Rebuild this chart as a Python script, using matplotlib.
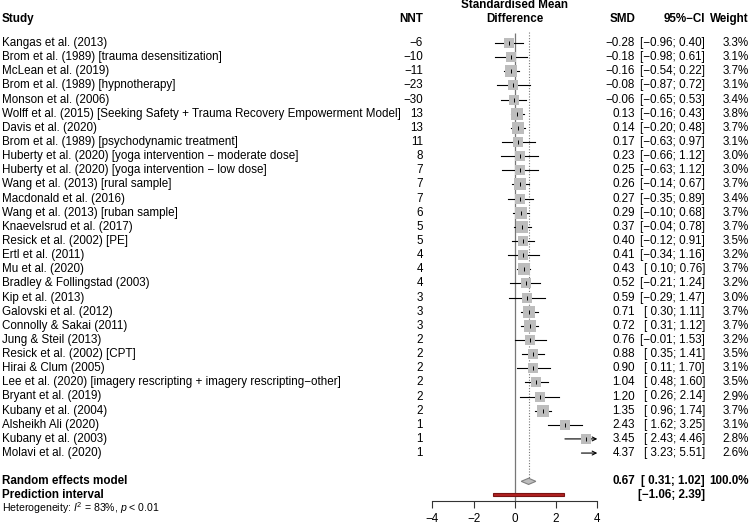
import matplotlib
matplotlib.use("Agg")
import matplotlib.pyplot as plt
from matplotlib.transforms import blended_transform_factory
from matplotlib.patches import Polygon, Rectangle

plt.rcParams["font.family"] = ["Liberation Sans", "DejaVu Sans"]
plt.rcParams["mathtext.fontset"] = "custom"
plt.rcParams["mathtext.rm"] = "Liberation Sans"
plt.rcParams["mathtext.it"] = "Liberation Sans:italic"

# data
studies = [
    "Kangas et al. (2013)",
    "Brom et al. (1989) [trauma desensitization]",
    "McLean et al. (2019)",
    "Brom et al. (1989) [hypnotherapy]",
    "Monson et al. (2006)",
    "Wolff et al. (2015) [Seeking Safety + Trauma Recovery Empowerment Model]",
    "Davis et al. (2020)",
    "Brom et al. (1989) [psychodynamic treatment]",
    "Huberty et al. (2020) [yoga intervention \u2212 moderate dose]",
    "Huberty et al. (2020) [yoga intervention \u2212 low dose]",
    "Wang et al. (2013) [rural sample]",
    "Macdonald et al. (2016)",
    "Wang et al. (2013) [ruban sample]",
    "Knaevelsrud et al. (2017)",
    "Resick et al. (2002) [PE]",
    "Ertl et al. (2011)",
    "Mu et al. (2020)",
    "Bradley & Follingstad (2003)",
    "Kip et al. (2013)",
    "Galovski et al. (2012)",
    "Connolly & Sakai (2011)",
    "Jung & Steil (2013)",
    "Resick et al. (2002) [CPT]",
    "Hirai & Clum (2005)",
    "Lee et al. (2020) [imagery rescripting + imagery rescripting\u2212other]",
    "Bryant et al. (2019)",
    "Kubany et al. (2004)",
    "Alsheikh Ali (2020)",
    "Kubany et al. (2003)",
    "Molavi et al. (2020)",
]
nnt = [-6, -10, -11, -23, -30, 13, 13, 11, 8, 7, 7, 7, 6, 5, 5, 4, 4, 4, 3, 3, 3,
       2, 2, 2, 2, 2, 2, 1, 1, 1]
smd = [-0.28, -0.18, -0.16, -0.08, -0.06, 0.13, 0.14, 0.17, 0.23, 0.25, 0.26, 0.27,
       0.29, 0.37, 0.40, 0.41, 0.43, 0.52, 0.59, 0.71, 0.72, 0.76, 0.88, 0.90, 1.04,
       1.20, 1.35, 2.43, 3.45, 4.37]
lower = [-0.96, -0.98, -0.54, -0.87, -0.65, -0.16, -0.20, -0.63, -0.66, -0.63, -0.14,
         -0.35, -0.10, -0.04, -0.12, -0.34, 0.10, -0.21, -0.29, 0.30, 0.31, -0.01,
         0.35, 0.11, 0.48, 0.26, 0.96, 1.62, 2.43, 3.23]
upper = [0.40, 0.61, 0.22, 0.72, 0.53, 0.43, 0.48, 0.97, 1.12, 1.12, 0.67, 0.89, 0.68,
         0.78, 0.91, 1.16, 0.76, 1.24, 1.47, 1.11, 1.12, 1.53, 1.41, 1.70, 1.60, 2.14,
         1.74, 3.25, 4.46, 5.51]
weight = [3.3, 3.1, 3.7, 3.1, 3.4, 3.8, 3.7, 3.1, 3.0, 3.0, 3.7, 3.4, 3.7, 3.7, 3.5,
          3.2, 3.7, 3.2, 3.0, 3.7, 3.7, 3.2, 3.5, 3.1, 3.5, 2.9, 3.7, 3.1, 2.8, 2.6]

re_smd, re_lo, re_hi = 0.67, 0.31, 1.02
pi_lo, pi_hi = -1.06, 2.39
ticks = [-4, -2, 0, 2, 4]


def fmt(v):
    s = f"{v:.2f}"
    return s.replace("-", "\u2212") if v < 0 else s


def ci(lo, hi):
    left = fmt(lo) if lo < 0 else " " + fmt(lo)
    return f"[{left}; {fmt(hi)}]"


W, H = 750, 527
fig = plt.figure(figsize=(7.5, 5.27), dpi=100)
# plot column spans -4..4 -> pixel 432..597
ax = fig.add_axes([432.3 / W, 0, 165 / W, 1])
ax.set_xlim(-4, 4)
row0, step = 43, 14.14
ax.set_ylim((H - row0) / step, -row0 / step)

n = len(studies)
re_row = 31.0
pi_row = 31.95
het_row = 32.9
axis_row = 32.4
head_row = -1.72
fs = 8.4

# reference lines
ax.vlines(0, -0.72, axis_row, color="#777777", lw=0.9)
ax.vlines(re_smd, -0.78, re_row - 0.22, color="#777777", lw=0.8, linestyles=(0, (1, 1.5)))

# study estimates
for i in range(n):
    lo, hi, est = lower[i], upper[i], smd[i]
    if hi > 4:
        ax.annotate("", xy=(4, i), xytext=(max(lo, -4), i),
                    arrowprops=dict(arrowstyle="->", lw=0.8, color="black",
                                    shrinkA=0, shrinkB=0, mutation_scale=7))
    else:
        ax.plot([lo, hi], [i, i], color="black", lw=0.8, zorder=2)
    if -4 <= est <= 4:
        side = 11.2 * (weight[i] / 3.8) ** 0.5 * 0.72
        ax.scatter([est], [i], marker="s", s=side ** 2, color="#bdbdbd", lw=0, zorder=3)
        ax.plot([est], [i], marker="|", ms=3, mew=0.7, color="black", zorder=4)

# random effects diamond
h = 0.22
ax.add_patch(Polygon([(re_lo, re_row), (re_smd, re_row - h), (re_hi, re_row),
                      (re_smd, re_row + h)], closed=True, facecolor="#bdbdbd",
                     edgecolor="#808080", lw=0.8, zorder=3))
# prediction interval
ax.add_patch(Rectangle((pi_lo, pi_row - 0.1), pi_hi - pi_lo, 0.2, facecolor="#b22222",
                       edgecolor="#7a1414", lw=0.8, zorder=3))

# x axis
for s in ["top", "left", "right"]:
    ax.spines[s].set_visible(False)
ax.spines["bottom"].set_position(("data", axis_row))
ax.spines["bottom"].set_bounds(-4, 4)
ax.spines["bottom"].set_color("#333333")
ax.spines["bottom"].set_linewidth(0.8)
ax.set_xticks(ticks)
ax.set_xticklabels([fmt(t).replace(".00", "") for t in ticks])
ax.tick_params(axis="x", direction="out", length=5, width=0.8, color="#333333",
               labelsize=fs, pad=3.5)
ax.set_yticks([])
ax.patch.set_visible(False)

# text columns (x in figure pixels, y in rows)
tr = blended_transform_factory(fig.transFigure, ax.transData)


def col(x, y, s, ha, bold=False, size=fs):
    ax.text(x / W, y, s, transform=tr, ha=ha, va="center", fontsize=size,
            fontweight="bold" if bold else "normal", clip_on=False)


col(2, head_row, "Study", "left", True)
col(423, head_row, "NNT", "right", True)
col(635, head_row, "SMD", "right", True)
col(705, head_row, "95%\u2212CI", "right", True)
col(749, head_row, "Weight", "right", True)
ax.text(0, head_row - 0.98, "Standardised Mean", ha="center", va="center", fontsize=fs,
        fontweight="bold")
ax.text(0, head_row, "Difference", ha="center", va="center", fontsize=fs,
        fontweight="bold")

for i in range(n):
    col(2, i, studies[i], "left")
    col(423, i, fmt(nnt[i]).replace(".00", ""), "right")
    col(635, i, fmt(smd[i]), "right")
    col(705, i, ci(lower[i], upper[i]), "right")
    col(749, i, f"{weight[i]:.1f}%", "right")

col(2, re_row, "Random effects model", "left", True)
col(635, re_row, fmt(re_smd), "right", True)
col(705, re_row, ci(re_lo, re_hi), "right", True)
col(749, re_row, "100.0%", "right", True)
col(2, pi_row, "Prediction interval", "left", True)
col(705, pi_row, ci(pi_lo, pi_hi), "right", True)
col(2, het_row, r"Heterogeneity: $I^2$ = 83%, $p$ < 0.01", "left", size=7.6)

fig.savefig("out.png", dpi=100)
